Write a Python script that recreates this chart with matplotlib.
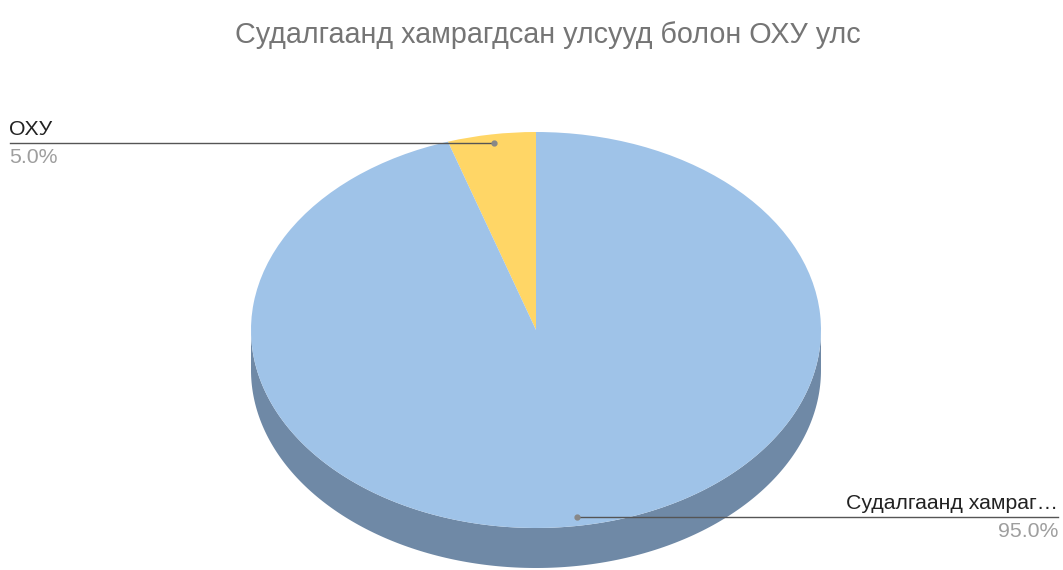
import numpy as np
import matplotlib.pyplot as plt
from matplotlib.patches import Wedge, Polygon
from matplotlib.transforms import Affine2D

plt.rcParams['font.family'] = ['Liberation Sans', 'DejaVu Sans']

title = 'Судалгаанд хамрагдсан улсууд болон ОХУ улс'
labels = ['ОХУ', 'Судалгаанд хамраг…']
values = [5.0, 95.0]
colors = ['#ffd666', '#9fc3e8']
side_color = '#6f89a6'

W, H = 1063, 570
fig = plt.figure(figsize=(W / 100, H / 100), dpi=100)
ax = fig.add_axes([0, 0, 1, 1])
ax.set_xlim(0, W)
ax.set_ylim(H, 0)
ax.axis('off')

# pie geometry (pixels, y down)
cx, cy, rx, ry, depth = 536, 330, 285, 198, 40
to_px = Affine2D().scale(rx, -ry).translate(cx, cy) + ax.transData

# side band (front half)
t = np.linspace(np.pi, 2 * np.pi, 200)
top = np.column_stack([cx + rx * np.cos(t), cy - ry * np.sin(t)])
bot = top[::-1] + [0, depth]
ax.add_patch(Polygon(np.vstack([top, bot]), closed=True, fc=side_color, ec='none'))

# top face, slices counterclockwise from 12 o'clock
fracs = np.array(values) / sum(values)
start = 90.0
for f, c in zip(fracs, colors):
    end = start + 360 * f
    ax.add_patch(Wedge((0, 0), 1, start, end, fc=c, ec='none', transform=to_px))
    start = end

# leader lines and labels
lab_color = '#222222'
pct_color = '#9e9e9e'
line_color = '#555555'
fs = 15.3

# ОХУ (left)
py, px = 143, 494
ax.plot([10, px], [py, py], color=line_color, lw=1)
ax.plot(px, py, 'o', color='#888888', ms=3.5)
ax.text(9, py - 4, labels[0], ha='left', va='bottom', fontsize=fs, color=lab_color)
ax.text(9, py + 5, f'{values[0]:.1f}%', ha='left', va='top', fontsize=fs, color=pct_color)

# main slice (right)
py2, px2 = 517, 577
ax.plot([px2, 1058], [py2, py2], color=line_color, lw=1)
ax.plot(px2, py2, 'o', color='#888888', ms=3.5)
ax.text(1058, py2 - 4, labels[1], ha='right', va='bottom', fontsize=fs, color=lab_color)
ax.text(1058, py2 + 5, f'{values[1]:.1f}%', ha='right', va='top', fontsize=fs, color=pct_color)

ax.text(548, 35, title, ha='center', va='center', fontsize=20.7, color='#757575')

fig.savefig('out.png', dpi=100, facecolor='white')
